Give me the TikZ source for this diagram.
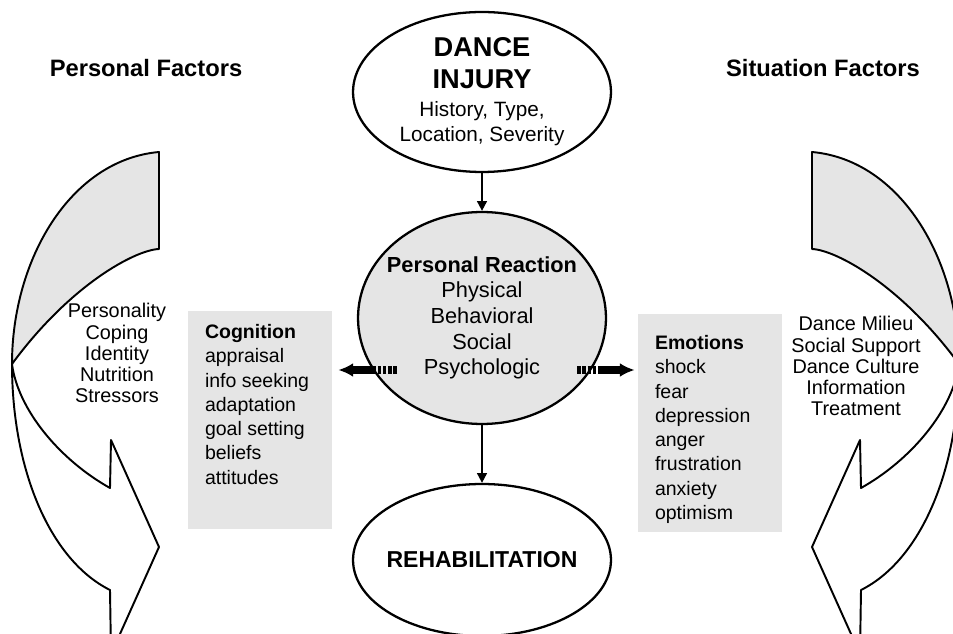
\documentclass[tikz,border=0pt]{standalone}
\usepackage{fontspec}
\setmainfont{Liberation Sans}
\usetikzlibrary{shapes.geometric,arrows.meta,calc,positioning}
\newcommand\fsz[2]{\fontsize{#1}{#2}\selectfont}
\newcommand\swoop{%
  \filldraw[swoopline,fill=black!10] (159,152) .. controls (70,160) and (12,260) .. (12,364)
    .. controls (70,285) and (135,250) .. (159,249) -- cycle;
  \filldraw[swoopline,fill=white] (12,364) .. controls (12,470) and (50,560) .. (110,590)
    -- (111,654) -- (159,547) -- (111,440) -- (110,488)
    .. controls (60,460) and (18,410) .. (12,364) -- cycle;}
\begin{document}
\begin{tikzpicture}[x=0.02cm,y=-0.02cm,
  bubble/.style={ellipse,draw,line width=1.3pt,inner sep=0pt,align=center},
  panel/.style={fill=black!10,minimum width=2.88cm,minimum height=4.38cm,inner sep=0pt},
  listtext/.style={align=left,anchor=north west,inner sep=0pt,font=\fsz{11.1}{13.8}},
  sidetext/.style={align=center,inner sep=0pt,font=\fsz{11.3}{12}},
  factorhead/.style={anchor=base,inner sep=0pt,font=\fsz{13.5}{16}\bfseries},
  link/.style={line width=1.1pt,-{Triangle[length=5.5pt,width=5.5pt]}},
  fat/.style={line width=4pt,-{Latex[length=8.5pt,width=8pt]},
    dash pattern=on 2pt off 1pt on 2pt off 1pt on 2pt off 1pt on 2pt off 1pt on 200pt},
  swoopline/.style={line width=1.1pt,line join=round}]
\useasboundingbox (0,0) rectangle (953,634);
\clip (0,0) rectangle (953,634);
\swoop
\begin{scope}[shift={(971,0)},xscale=-1]\swoop\end{scope}
\node[factorhead] (pf) at (146,77) {Personal Factors};
\node[factorhead] (sf) at (823,77) {Situation Factors};
\node[bubble,minimum width=5.16cm,minimum height=3.2cm,font=\fsz{11.8}{14.2}] (inj) at (482,92)
  {\fsz{15.5}{18}\bfseries DANCE\\[4pt]\fsz{15.5}{18}\bfseries INJURY\\[1.7pt]History, Type,\\Location, Severity};
\node[bubble,fill=black!10,minimum width=4.96cm,minimum height=4.24cm,inner xsep=-5pt,font=\fsz{12.4}{14.6}] (pr) at (482,318)
  {\textbf{Personal Reaction}\\Physical\\Behavioral\\Social\\Psychologic};
\node[bubble,minimum width=5.16cm,minimum height=3.04cm,inner xsep=-5pt,font=\fsz{13.1}{15}\bfseries] (rehab) at (482,560) {REHABILITATION};
\node[panel] (cogbox) at (260,420) {};
\node[panel] (emobox) at (710,423) {};
\node[listtext] (cog) at ($(cogbox.north west)+(17,14)$)
  {\textbf{Cognition}\\appraisal\\info seeking\\adaptation\\goal setting\\beliefs\\attitudes};
\node[listtext] (emo) at ($(emobox.north west)+(17,22)$)
  {\textbf{Emotions}\\shock\\fear\\depression\\anger\\frustration\\anxiety\\optimism};
\node[sidetext] (pers) at (117,353) {Personality\\Coping\\Identity\\Nutrition\\Stressors};
\node[sidetext] (sit) at (856,366) {Dance Milieu\\Social Support\\Dance Culture\\Information\\Treatment};
\draw[link] (inj) -- (pr);
\draw[link] (pr) -- (rehab);
\coordinate (lt) at ($(pr.center)+(-85,52)$);
\coordinate (rt) at ($(pr.center)+(95,52)$);
\draw[fat] (lt) -- ([xshift=3.4pt]cogbox.east |- lt);
\draw[fat] (rt) -- ([xshift=-1.7pt]emobox.west |- rt);
\end{tikzpicture}
\end{document}
